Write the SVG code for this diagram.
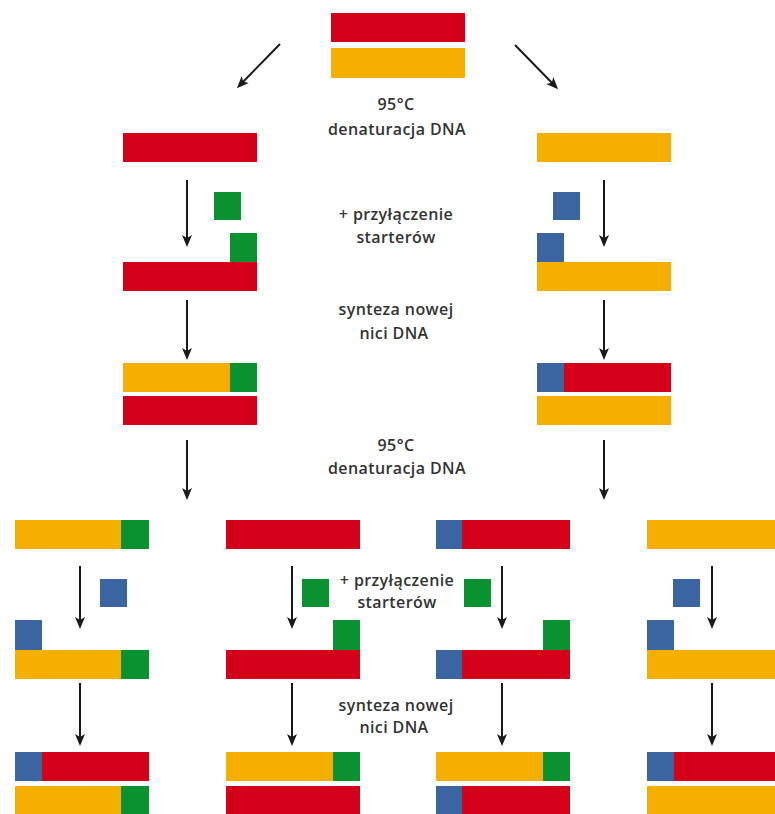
<svg xmlns="http://www.w3.org/2000/svg" width="775" height="814" viewBox="0 0 775 814">
<style>
.r{fill:#D4001A}.o{fill:#F5AF00}.g{fill:#0A9130}.b{fill:#3A65A0}
.t{font-family:"Open Sans","Liberation Sans",sans-serif;font-size:16px;font-weight:600;fill:#333;text-anchor:middle;letter-spacing:0.4px}
.a{stroke:#1a1a1a;stroke-width:2;fill:none;marker-end:url(#ah)}
</style>
<defs>
<marker id="ah" markerWidth="12" markerHeight="12" refX="9" refY="6" orient="auto" markerUnits="userSpaceOnUse" viewBox="0 0 12 12">
<path d="M0,1 L12,6 L0,11 L3,6 Z" fill="#1a1a1a"/>
</marker>
</defs>
<rect width="775" height="814" fill="#fff"/>
<g id="connectors">
<line class="a" x1="280" y1="44" x2="239" y2="86"/>
<line class="a" x1="515" y1="45" x2="556" y2="87"/>
<line class="a" x1="187" y1="180" x2="187" y2="244"/>
<line class="a" x1="604" y1="180" x2="604" y2="244"/>
<line class="a" x1="187" y1="300" x2="187" y2="357"/>
<line class="a" x1="604" y1="300" x2="604" y2="357"/>
<line class="a" x1="187" y1="440" x2="187" y2="497"/>
<line class="a" x1="604" y1="440" x2="604" y2="497"/>
<line class="a" x1="80" y1="566" x2="80" y2="626"/>
<line class="a" x1="292" y1="566" x2="292" y2="626"/>
<line class="a" x1="502" y1="566" x2="502" y2="626"/>
<line class="a" x1="712" y1="566" x2="712" y2="626"/>
<line class="a" x1="80" y1="683" x2="80" y2="743"/>
<line class="a" x1="292" y1="683" x2="292" y2="743"/>
<line class="a" x1="502" y1="683" x2="502" y2="743"/>
<line class="a" x1="712" y1="683" x2="712" y2="743"/>
</g>
<g id="labels">
<text class="t" x="396" y="110">95°C</text>
<text class="t" x="397" y="135">denaturacja DNA</text>
<text class="t" x="396" y="220">+ przyłączenie</text>
<text class="t" x="396" y="243">starterów</text>
<text class="t" x="396" y="315">synteza nowej</text>
<text class="t" x="394" y="339">nici DNA</text>
<text class="t" x="396" y="451">95°C</text>
<text class="t" x="397" y="474">denaturacja DNA</text>
<text class="t" x="397" y="586">+ przyłączenie</text>
<text class="t" x="397" y="608">starterów</text>
<text class="t" x="396" y="711">synteza nowej</text>
<text class="t" x="394" y="733">nici DNA</text>
</g>
<g id="dsDNA-start">
<rect class="r" x="331" y="13" width="134" height="29"/>
<rect class="o" x="331" y="48" width="134" height="30"/>
</g>
<g id="left-strand"><rect class="r" x="123" y="133" width="134" height="29"/></g>
<g id="right-strand"><rect class="o" x="537" y="133" width="134" height="29"/></g>
<g id="left-primer-free"><rect class="g" x="214" y="192" width="27" height="28"/></g>
<g id="right-primer-free"><rect class="b" x="553" y="192" width="27" height="28"/></g>
<g id="left-annealed">
<rect class="g" x="230" y="233" width="27" height="29"/>
<rect class="r" x="123" y="262" width="134" height="29"/>
</g>
<g id="right-annealed">
<rect class="b" x="537" y="233" width="27" height="29"/>
<rect class="o" x="537" y="262" width="134" height="29"/>
</g>
<g id="left-synth">
<rect class="o" x="123" y="363" width="107" height="29"/>
<rect class="g" x="230" y="363" width="27" height="29"/>
<rect class="r" x="123" y="396" width="134" height="29"/>
</g>
<g id="right-synth">
<rect class="b" x="537" y="363" width="27" height="29"/>
<rect class="r" x="564" y="363" width="107" height="29"/>
<rect class="o" x="537" y="396" width="134" height="29"/>
</g>
<g id="c1-strand">
<rect class="o" x="15" y="520" width="106" height="29"/>
<rect class="g" x="121" y="520" width="28" height="29"/>
</g>
<g id="c2-strand"><rect class="r" x="226" y="520" width="134" height="29"/></g>
<g id="c3-strand">
<rect class="b" x="436" y="520" width="26" height="29"/>
<rect class="r" x="462" y="520" width="108" height="29"/>
</g>
<g id="c4-strand"><rect class="o" x="647" y="520" width="134" height="29"/></g>
<g id="c1-primer"><rect class="b" x="100" y="579" width="27" height="28"/></g>
<g id="c2-primer"><rect class="g" x="302" y="579" width="27" height="28"/></g>
<g id="c3-primer"><rect class="g" x="464" y="579" width="27" height="28"/></g>
<g id="c4-primer"><rect class="b" x="673" y="579" width="27" height="28"/></g>
<g id="c1-annealed">
<rect class="b" x="15" y="620" width="27" height="30"/>
<rect class="o" x="15" y="650" width="106" height="29"/>
<rect class="g" x="121" y="650" width="28" height="29"/>
</g>
<g id="c2-annealed">
<rect class="g" x="333" y="620" width="27" height="30"/>
<rect class="r" x="226" y="650" width="134" height="29"/>
</g>
<g id="c3-annealed">
<rect class="g" x="543" y="620" width="27" height="30"/>
<rect class="b" x="436" y="650" width="26" height="29"/>
<rect class="r" x="462" y="650" width="108" height="29"/>
</g>
<g id="c4-annealed">
<rect class="b" x="647" y="620" width="27" height="30"/>
<rect class="o" x="647" y="650" width="134" height="29"/>
</g>
<g id="c1-product">
<rect class="b" x="15" y="752" width="27" height="29"/>
<rect class="r" x="42" y="752" width="107" height="29"/>
<rect class="o" x="15" y="786" width="106" height="28"/>
<rect class="g" x="121" y="786" width="28" height="28"/>
</g>
<g id="c2-product">
<rect class="o" x="226" y="752" width="107" height="29"/>
<rect class="g" x="333" y="752" width="27" height="29"/>
<rect class="r" x="226" y="786" width="134" height="28"/>
</g>
<g id="c3-product">
<rect class="o" x="436" y="752" width="107" height="29"/>
<rect class="g" x="543" y="752" width="27" height="29"/>
<rect class="b" x="436" y="786" width="26" height="28"/>
<rect class="r" x="462" y="786" width="108" height="28"/>
</g>
<g id="c4-product">
<rect class="b" x="647" y="752" width="27" height="29"/>
<rect class="r" x="674" y="752" width="107" height="29"/>
<rect class="o" x="647" y="786" width="134" height="28"/>
</g>
</svg>
